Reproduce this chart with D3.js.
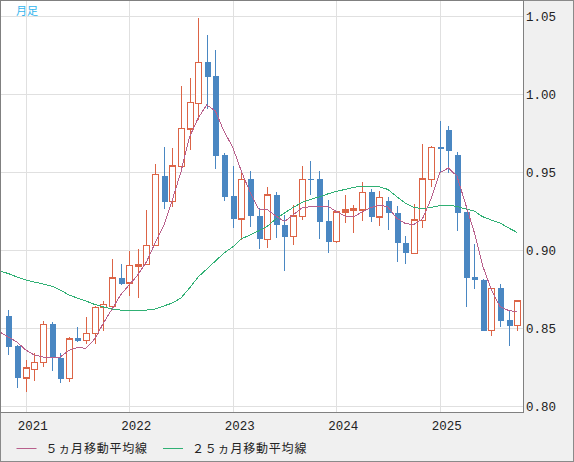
<!DOCTYPE html>
<html>
<head>
<meta charset="utf-8">
<script src="https://cdn.jsdelivr.net/npm/d3@7"></script>
<style>
  html, body { margin: 0; padding: 0; background: #f0f0f0; }
  svg { display: block; }
  .axis text { font-family: "Liberation Mono", "DejaVu Sans Mono", monospace; font-size: 12.5px; fill: #222; }
  .axis path { display: none; }
  .grid line { stroke: #e0e0e0; stroke-width: 1; shape-rendering: crispEdges; }
  .grid path { display: none; }
</style>
</head>
<body>
<div id="chart"></div>
<script>

// monthly candles, one per month
const months = ["2020-11","2020-12",
  "2021-01","2021-02","2021-03","2021-04","2021-05","2021-06","2021-07","2021-08","2021-09","2021-10","2021-11","2021-12",
  "2022-01","2022-02","2022-03","2022-04","2022-05","2022-06","2022-07","2022-08","2022-09","2022-10","2022-11","2022-12",
  "2023-01","2023-02","2023-03","2023-04","2023-05","2023-06","2023-07","2023-08","2023-09","2023-10","2023-11","2023-12",
  "2024-01","2024-02","2024-03","2024-04","2024-05","2024-06","2024-07","2024-08","2024-09","2024-10","2024-11","2024-12",
  "2025-01","2025-02","2025-03","2025-04","2025-05","2025-06","2025-07","2025-08","2025-09","2025-10"];

const open = [0.8577,0.8385,
  0.8181,0.8235,0.8280,0.8528,0.8308,0.8175,0.8436,0.8419,0.8466,0.8633,0.8637,0.8819,
  0.8787,0.8897,0.8906,0.9030,0.9474,0.9310,0.9534,0.9776,0.9940,1.0203,1.0115,0.9609,
  0.9346,0.9199,0.9455,0.9218,0.9068,0.9353,0.9160,0.9085,0.9216,0.9458,0.9455,0.9186,
  0.9053,0.9242,0.9252,0.9258,0.9370,0.9210,0.9314,0.9239,0.9047,0.8976,0.9190,0.9453,
  0.9658,0.9769,0.9609,0.9244,0.8829,0.8808,0.8483,0.8754,0.8551,0.8515];

const high = [0.8615,0.8388,
  0.8295,0.8342,0.8545,0.8538,0.8342,0.8444,0.8506,0.8571,0.8641,0.8675,0.8942,0.8910,
  0.8996,0.9006,0.9256,0.9551,0.9662,0.9652,1.0051,1.0101,1.0489,1.0378,1.0282,0.9620,
  0.9538,0.9492,0.9506,0.9267,0.9402,0.9374,0.9224,0.9288,0.9540,0.9570,0.9506,0.9320,
  0.9250,0.9353,0.9288,0.9434,0.9393,0.9378,0.9342,0.9282,0.9090,0.9295,0.9681,0.9667,
  0.9827,0.9795,0.9628,0.9246,0.9038,0.8815,0.8754,0.8780,0.8609,0.8673];

const low = [0.8327,0.8117,
  0.8092,0.8162,0.8252,0.8226,0.8149,0.8156,0.8410,0.8396,0.8397,0.8483,0.8635,0.8776,
  0.8707,0.8694,0.8904,0.9026,0.9263,0.9278,0.9532,0.9641,0.9833,0.9904,0.9519,0.9314,
  0.9143,0.9064,0.9150,0.9008,0.9015,0.9079,0.8867,0.9032,0.9192,0.9353,0.9070,0.8979,
  0.9045,0.9175,0.9107,0.9186,0.9178,0.9154,0.9128,0.8925,0.8913,0.8974,0.9139,0.9406,
  0.9492,0.9496,0.9124,0.8637,0.8752,0.8483,0.8451,0.8508,0.8387,0.8483];

const close = [0.8380,0.8181,
  0.8242,0.8280,0.8524,0.8316,0.8175,0.8429,0.8417,0.8466,0.8633,0.8652,0.8819,0.8782,
  0.8902,0.8908,0.9030,0.9485,0.9310,0.9538,0.9780,0.9947,1.0203,1.0111,0.9604,0.9342,
  0.9199,0.9453,0.9220,0.9072,0.9353,0.9162,0.9085,0.9218,0.9453,0.9452,0.9181,0.9053,
  0.9242,0.9256,0.9263,0.9370,0.9213,0.9338,0.9235,0.9047,0.8978,0.9192,0.9455,0.9658,
  0.9649,0.9637,0.9239,0.8822,0.8808,0.8483,0.8754,0.8547,0.8515,0.8673];

// moving averages, first value is 2020-10 (one month left of the first candle)
const ma5 = [0.8474,0.8442,0.8410,
  0.8359,0.8327,0.8314,0.8308,0.8314,0.8356,0.8375,0.8370,0.8430,0.8530,0.8620,0.8712,
  0.8776,0.8840,0.8923,0.9045,0.9154,0.9320,0.9500,0.9724,0.9846,0.9930,0.9891,0.9760,
  0.9660,0.9506,0.9372,0.9263,0.9260,0.9218,0.9183,0.9224,0.9269,0.9278,0.9282,0.9282,
  0.9247,0.9218,0.9212,0.9244,0.9272,0.9288,0.9276,0.9205,0.9170,0.9163,0.9199,0.9327,
  0.9494,0.9526,0.9474,0.9295,0.9115,0.8897,0.8744,0.8637,0.8612,0.8603];

const ma25 = [0.8865,0.8849,0.8827,
  0.8808,0.8795,0.8782,0.8769,0.8744,0.8712,0.8692,0.8673,0.8651,0.8635,0.8622,0.8615,
  0.8612,0.8612,0.8615,0.8622,0.8641,0.8660,0.8692,0.8756,0.8827,0.8878,0.8929,0.8981,
  0.9019,0.9071,0.9096,0.9122,0.9151,0.9199,0.9237,0.9272,0.9304,0.9324,0.9340,0.9359,
  0.9375,0.9388,0.9401,0.9410,0.9410,0.9406,0.9388,0.9343,0.9301,0.9272,0.9266,0.9272,
  0.9285,0.9288,0.9279,0.9263,0.9250,0.9213,0.9192,0.9173,0.9141,0.9112];

const yTicks = [0.80, 0.85, 0.90, 0.95, 1.00, 1.05];
const yearTicks = ["2021-01","2022-01","2023-01","2024-01","2025-01"];
const legendNames = ["５ヵ月移動平均線", "２５ヵ月移動平均線"];

const upColor = "#dc6446";
const downColor = "#4a87c2";
const ma5Color = "#b8608c";
const ma25Color = "#30b074";

const width = 574, height = 462;
const plot = {left: 1, top: 1, right: 523, bottom: 412};

let svg = d3.select("#chart").append("svg")
    .attr("width", width)
    .attr("height", height);

svg.append("rect")
    .attr("x", 0.5).attr("y", 0.5)
    .attr("width", width - 1).attr("height", height - 1)
    .attr("fill", "#f0f0f0")
    .attr("stroke", "#8a8a8a");

svg.append("rect")
    .attr("x", plot.left).attr("y", plot.top)
    .attr("width", plot.right - plot.left).attr("height", plot.bottom - plot.top)
    .attr("fill", "#ffffff");

svg.append("clipPath").attr("id", "plotClip")
    .append("rect")
    .attr("x", plot.left).attr("y", plot.top)
    .attr("width", plot.right - plot.left).attr("height", plot.bottom - plot.top);

// candle index -> pixel
let xScale = d3.scaleLinear()
    .domain([0, months.length - 1])
    .range([8.4, 517.3]);

let yScale = d3.scaleLinear()
    .domain([0.80, 1.05])
    .range([406, 16]);

let yearIdx = yearTicks.map(m => months.indexOf(m));

// grid
svg.append("g")
    .attr("class", "grid")
    .attr("transform", "translate(" + plot.left + ",0)")
    .call(d3.axisRight(yScale).tickValues(yTicks).tickSize(plot.right - plot.left).tickFormat(""));

svg.append("g")
    .attr("class", "grid")
    .attr("transform", "translate(0," + plot.top + ")")
    .call(d3.axisBottom(xScale).tickValues(yearIdx).tickSize(plot.bottom - plot.top).tickFormat(""));

let chartArea = svg.append("g").attr("clip-path", "url(#plotClip)");

// candles
let candles = chartArea.selectAll("g.candle")
    .data(months.map((m, i) => i))
    .enter().append("g")
    .attr("class", "candle")
    .attr("shape-rendering", "crispEdges");

candles.append("line")
    .attr("x1", i => Math.round(xScale(i)) + 0.5)
    .attr("x2", i => Math.round(xScale(i)) + 0.5)
    .attr("y1", i => yScale(high[i]))
    .attr("y2", i => yScale(low[i]))
    .attr("stroke", i => close[i] >= open[i] ? upColor : downColor)
    .attr("stroke-width", 1.3);

candles.append("rect")
    .attr("x", i => Math.round(xScale(i)) - 2.5)
    .attr("width", 6)
    .attr("y", i => yScale(Math.max(open[i], close[i])))
    .attr("height", i => Math.max(1.3, Math.abs(yScale(open[i]) - yScale(close[i]))))
    .attr("fill", i => close[i] >= open[i] ? "#ffffff" : downColor)
    .attr("stroke", i => close[i] >= open[i] ? upColor : "none")
    .attr("stroke-width", 1.5);

// moving averages
let maLine = d3.line()
    .x((d, j) => xScale(j - 1))
    .y(d => yScale(d));

chartArea.append("path")
    .datum(ma25)
    .attr("d", maLine)
    .attr("fill", "none")
    .attr("stroke", ma25Color)
    .attr("stroke-width", 1)
    .attr("shape-rendering", "crispEdges");

chartArea.append("path")
    .datum(ma5)
    .attr("d", maLine)
    .attr("fill", "none")
    .attr("stroke", ma5Color)
    .attr("stroke-width", 1)
    .attr("shape-rendering", "crispEdges");

// plot border
svg.append("rect")
    .attr("x", plot.left - 0.5).attr("y", plot.top - 0.5)
    .attr("width", plot.right - plot.left + 1).attr("height", plot.bottom - plot.top + 1)
    .attr("fill", "none")
    .attr("stroke", "#808080");

// axes
let yAxis = svg.append("g")
    .attr("class", "axis")
    .attr("transform", "translate(" + plot.right + ",0)")
    .call(d3.axisRight(yScale).tickValues(yTicks).tickSize(0).tickPadding(3).tickFormat(d3.format(".2f")));

let xAxis = svg.append("g")
    .attr("class", "axis")
    .attr("transform", "translate(0," + plot.bottom + ")")
    .call(d3.axisBottom(xScale).tickValues(yearIdx).tickSize(0).tickFormat(i => months[i].slice(0, 4)));

xAxis.selectAll("text")
    .attr("text-anchor", "start")
    .attr("x", -8.5)
    .attr("y", 18)
    .attr("dy", 0);

// title
svg.append("text")
    .attr("x", 16)
    .attr("y", 15)
    .attr("fill", "#33b5ee")
    .attr("style", "font-family:'Noto Sans CJK JP';font-size:11px")
    .text("月足");

// legend
let legend = svg.append("g").attr("class", "legend");
let legendX = [16.5, 163];
let legendColors = [ma5Color, ma25Color];

legendNames.forEach(function (name, k) {
    legend.append("line")
        .attr("x1", legendX[k]).attr("x2", legendX[k] + 20)
        .attr("y1", 448.5).attr("y2", 448.5)
        .attr("stroke", legendColors[k])
        .attr("stroke-width", 1);
    legend.append("text")
        .attr("x", legendX[k] + 29)
        .attr("y", 453)
        .attr("fill", "#222")
        .attr("style", "font-family:'Noto Sans CJK JP';font-size:12px;letter-spacing:0.8px")
        .text(name);
});

</script>
</body>
</html>
